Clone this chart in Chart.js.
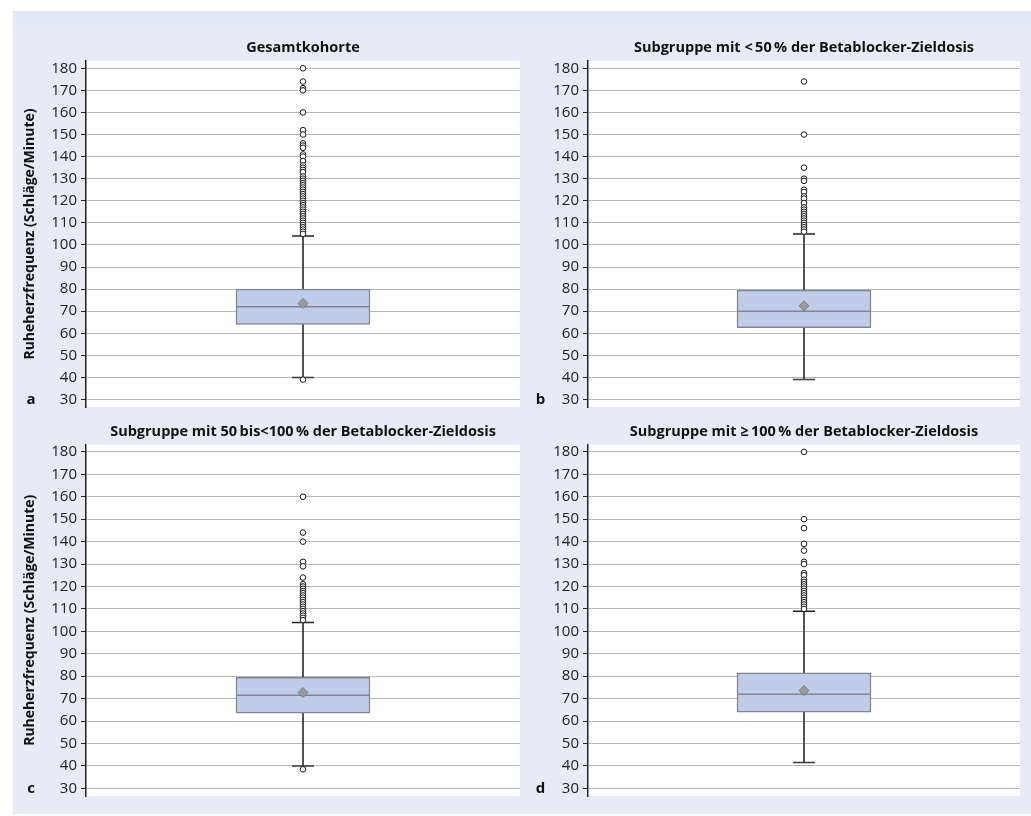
<!DOCTYPE html>
<html>
<head>
<meta charset="utf-8">
<script src="https://cdn.jsdelivr.net/npm/chart.js@4.4.1/dist/chart.umd.min.js"></script>
<style>
  html, body { margin: 0; padding: 0; background: #ffffff; }
  body { width: 1031px; height: 816px; position: relative; overflow: hidden; font-family: "Open Sans", sans-serif; }
  #frame { position: absolute; left: 13px; top: 11px; width: 1018px; height: 803px; background: #e8ebf6; }
  #band { position: absolute; left: 13px; top: 11px; width: 1018px; height: 14px; background: #e4e8f5; }
  .panel { position: absolute; }
  .panel canvas { display: block; }
</style>
</head>
<body>
<div id="frame"></div>
<div id="band"></div>
<div class="panel" style="left:13px;top:25px;width:515px;height:395px"><canvas id="pa"></canvas></div>
<div class="panel" style="left:528px;top:25px;width:503px;height:395px"><canvas id="pb"></canvas></div>
<div class="panel" style="left:13px;top:420px;width:515px;height:394px"><canvas id="pc"></canvas></div>
<div class="panel" style="left:528px;top:420px;width:503px;height:394px"><canvas id="pd"></canvas></div>
<script>
// Panel headings and letters
const panelTitles = [
  'Gesamtkohorte',
  'Subgruppe mit <\u200950\u2009% der Betablocker-Zieldosis',
  'Subgruppe mit 50\u2009bis<100\u2009% der Betablocker-Zieldosis',
  'Subgruppe mit \u2265\u2009100\u2009% der Betablocker-Zieldosis'
];
const panelLetters = ['a', 'b', 'c', 'd'];
const yAxisTitle = 'Ruheherzfrequenz (Schläge/Minute)';
const yTickValues = [30, 40, 50, 60, 70, 80, 90, 100, 110, 120, 130, 140, 150, 160, 170, 180];

// Box statistics per panel (a, b, c, d)
const boxQ1 = [64, 62.5, 63.5, 64];
const boxMedian = [72, 70, 71.5, 72];
const boxQ3 = [80, 79.5, 79.5, 81.5];
const boxMean = [73.5, 72.4, 72.7, 73.6];
const whiskerLow = [40, 39, 40, 41.5];
const whiskerHigh = [104, 105, 104, 109];

// Outlying heart rates per panel
const outliersA = [180, 174, 171, 170, 160, 152, 150, 146, 145, 144, 141, 140, 138, 136, 135, 134, 133, 131, 130,
  129, 128, 127, 126, 125, 124, 123, 122, 121, 120, 119, 118, 117, 116, 115, 114, 113, 112, 111, 110, 109, 108,
  107, 106, 105, 39];
const outliersB = [174, 150, 135, 130, 129, 125, 124, 122, 121, 119, 117, 116, 115, 114, 113, 112, 111, 110, 109,
  108, 107, 106];
const outliersC = [160, 144, 140, 131, 129, 124, 121, 120, 119, 118, 117, 116, 115, 114, 113, 112, 111, 110, 109,
  108, 107, 106, 105, 38.5];
const outliersD = [180, 150, 146, 139, 136, 131, 130, 126, 125, 123, 122, 121, 120, 119, 118, 117, 116, 115, 114,
  113, 112, 111, 110];
const outlierSets = [outliersA, outliersB, outliersC, outliersD];

// Canvas layout for each panel
const layouts = [
  { id: 'pa', axisWidth: 73, pad: { top: 36, right: 8, bottom: 8.3, left: 0 }, letterX: 18, yTitle: true },
  { id: 'pb', axisWidth: 60, pad: { top: 36, right: 11, bottom: 8.3, left: 0 }, letterX: 12.5, yTitle: false },
  { id: 'pc', axisWidth: 73, pad: { top: 24.5, right: 8, bottom: 18, left: 0 }, letterX: 18, yTitle: true },
  { id: 'pd', axisWidth: 60, pad: { top: 24.5, right: 11, bottom: 18, left: 0 }, letterX: 12.5, yTitle: false }
];

const FONT = '"Open Sans", "DejaVu Sans", sans-serif';

// White plot area, heading above it and panel letter beside the lowest tick
const panelDecor = {
  id: 'panelDecor',
  beforeDraw(chart) {
    const { ctx, chartArea: a } = chart;
    ctx.save();
    ctx.fillStyle = '#ffffff';
    ctx.fillRect(a.left, a.top, a.right - a.left, a.bottom - a.top);
    ctx.restore();
  },
  afterDraw(chart, args, opts) {
    const { ctx, chartArea: a, scales } = chart;
    ctx.save();
    ctx.fillStyle = '#111111';
    ctx.textAlign = 'center';
    ctx.textBaseline = 'middle';
    ctx.font = 'bold 14.5px ' + FONT;
    ctx.fillText(opts.title, (a.left + a.right) / 2, a.top - 13);
    ctx.font = 'bold 15px ' + FONT;
    ctx.fillText(opts.letter, opts.letterX, scales.y.getPixelForValue(30));
    ctx.restore();
  }
};

function pts(cat, values) {
  return values.map(v => ({ x: cat, y: v }));
}

layouts.forEach((L, i) => {
  const cat = panelTitles[i];
  new Chart(document.getElementById(L.id), {
    type: 'bar',
    data: {
      labels: [cat],
      datasets: [
        { // outliers
          type: 'line', order: 0, showLine: false,
          data: pts(cat, outlierSets[i]),
          pointStyle: 'circle', pointRadius: 2.8, pointBorderWidth: 1,
          pointBackgroundColor: '#ffffff', pointBorderColor: '#1a1a1a'
        },
        { // mean
          type: 'line', order: 1, showLine: false,
          data: pts(cat, [boxMean[i]]),
          pointStyle: 'rectRot', pointRadius: 5, pointBorderWidth: 1,
          pointBackgroundColor: '#9b9b9b', pointBorderColor: '#7a7a7a'
        },
        { // whisker caps
          type: 'line', order: 2, showLine: false,
          data: pts(cat, [whiskerLow[i], whiskerHigh[i]]),
          pointStyle: 'line', pointRadius: 11, pointBorderWidth: 1.5,
          pointBorderColor: ['#3a3a3a', '#222222']
        },
        { // median
          type: 'line', order: 3, showLine: false,
          data: pts(cat, [boxMedian[i]]),
          pointStyle: 'line', pointRadius: 67, pointBorderWidth: 1.5,
          pointBorderColor: '#80858f'
        },
        { // box from Q1 to Q3
          type: 'bar', order: 4,
          data: [[boxQ1[i], boxQ3[i]]],
          backgroundColor: '#c0cde9', borderColor: '#80858f', borderWidth: 1.5,
          borderSkipped: false, barThickness: 134, grouped: false
        },
        { // whisker line
          type: 'line', order: 5,
          data: pts(cat, [whiskerLow[i], whiskerHigh[i]]),
          borderColor: '#1a1a1a', borderWidth: 1.5, pointRadius: 0, fill: false
        }
      ]
    },
    options: {
      responsive: true,
      maintainAspectRatio: false,
      animation: false,
      events: [],
      layout: { padding: L.pad, autoPadding: false },
      scales: {
        x: { display: false, offset: true },
        y: {
          min: 26.6, max: 183.3,
          afterBuildTicks(scale) { scale.ticks = yTickValues.map(v => ({ value: v })); },
          afterFit(scale) { scale.width = L.axisWidth; },
          ticks: { font: { family: FONT, size: 15 }, color: '#222222', padding: 4, autoSkip: false },
          grid: { color: '#b8b8b8', lineWidth: 1, tickColor: '#222222', tickLength: 5, drawTicks: true },
          border: { display: true, color: '#222222', width: 1.5 },
          title: {
            display: L.yTitle, text: yAxisTitle,
            font: { family: FONT, size: 14, weight: 'bold' }, color: '#111111',
            padding: { top: 9, bottom: 0 }
          }
        }
      },
      plugins: {
        legend: { display: false },
        tooltip: { enabled: false },
        title: { display: false },
        panelDecor: { title: panelTitles[i], letter: panelLetters[i], letterX: L.letterX }
      }
    },
    plugins: [panelDecor]
  });
});
</script>
</body>
</html>
